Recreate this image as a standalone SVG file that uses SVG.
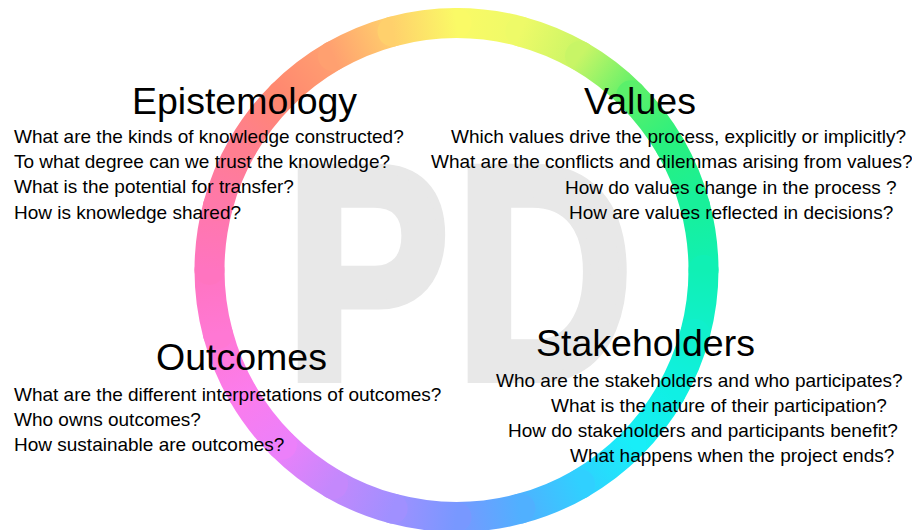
<svg xmlns="http://www.w3.org/2000/svg" width="912" height="530" viewBox="0 0 912 530">
  <style>
    .bg { fill: #ffffff; }
    .mark { font-family: "Liberation Sans", Arial, sans-serif; font-weight: bold; font-size: 304px; letter-spacing: 7px; fill: #e8e8e8; stroke: #e8e8e8; stroke-width: 10; stroke-linejoin: miter; }
    .seg { fill: none; stroke-width: 30; stroke-linecap: round; }
    .title { font-family: "Liberation Sans", Arial, sans-serif; font-size: 37.5px; fill: #000000; }
    .q { font-family: "Liberation Sans", Arial, sans-serif; font-size: 19px; fill: #000000; }
  </style>
  <defs>
    <!-- one linear gradient per 15-degree arc, chord to chord, to build the hue wheel -->
    <linearGradient id="g0" gradientUnits="userSpaceOnUse" x1="456.5" y1="23" x2="520.43" y2="31.42"><stop offset="0" stop-color="#fafa66"/><stop offset="1" stop-color="#eefa68"/></linearGradient>
    <linearGradient id="g1" gradientUnits="userSpaceOnUse" x1="520.43" y1="31.42" x2="580" y2="56.09"><stop offset="0" stop-color="#eefa68"/><stop offset="1" stop-color="#c8f566"/></linearGradient>
    <linearGradient id="g2" gradientUnits="userSpaceOnUse" x1="580" y1="56.09" x2="631.15" y2="95.35"><stop offset="0" stop-color="#c8f566"/><stop offset="1" stop-color="#5af06a"/></linearGradient>
    <linearGradient id="g3" gradientUnits="userSpaceOnUse" x1="631.15" y1="95.35" x2="670.41" y2="146.5"><stop offset="0" stop-color="#5af06a"/><stop offset="1" stop-color="#28f080"/></linearGradient>
    <linearGradient id="g4" gradientUnits="userSpaceOnUse" x1="670.41" y1="146.5" x2="695.08" y2="206.07"><stop offset="0" stop-color="#28f080"/><stop offset="1" stop-color="#18f09a"/></linearGradient>
    <linearGradient id="g5" gradientUnits="userSpaceOnUse" x1="695.08" y1="206.07" x2="703.5" y2="270"><stop offset="0" stop-color="#18f09a"/><stop offset="1" stop-color="#10f0b4"/></linearGradient>
    <linearGradient id="g6" gradientUnits="userSpaceOnUse" x1="703.5" y1="270" x2="695.08" y2="333.93"><stop offset="0" stop-color="#10f0b4"/><stop offset="1" stop-color="#10f0cc"/></linearGradient>
    <linearGradient id="g7" gradientUnits="userSpaceOnUse" x1="695.08" y1="333.93" x2="670.41" y2="393.5"><stop offset="0" stop-color="#10f0cc"/><stop offset="1" stop-color="#10f0e4"/></linearGradient>
    <linearGradient id="g8" gradientUnits="userSpaceOnUse" x1="670.41" y1="393.5" x2="631.15" y2="444.65"><stop offset="0" stop-color="#10f0e4"/><stop offset="1" stop-color="#18eef8"/></linearGradient>
    <linearGradient id="g9" gradientUnits="userSpaceOnUse" x1="631.15" y1="444.65" x2="580" y2="483.91"><stop offset="0" stop-color="#18eef8"/><stop offset="1" stop-color="#30d0ff"/></linearGradient>
    <linearGradient id="g10" gradientUnits="userSpaceOnUse" x1="580" y1="483.91" x2="520.43" y2="508.58"><stop offset="0" stop-color="#30d0ff"/><stop offset="1" stop-color="#50b0ff"/></linearGradient>
    <linearGradient id="g11" gradientUnits="userSpaceOnUse" x1="520.43" y1="508.58" x2="456.5" y2="517"><stop offset="0" stop-color="#50b0ff"/><stop offset="1" stop-color="#7898ff"/></linearGradient>
    <linearGradient id="g12" gradientUnits="userSpaceOnUse" x1="456.5" y1="517" x2="392.57" y2="508.58"><stop offset="0" stop-color="#7898ff"/><stop offset="1" stop-color="#a090ff"/></linearGradient>
    <linearGradient id="g13" gradientUnits="userSpaceOnUse" x1="392.57" y1="508.58" x2="333" y2="483.91"><stop offset="0" stop-color="#a090ff"/><stop offset="1" stop-color="#c488fc"/></linearGradient>
    <linearGradient id="g14" gradientUnits="userSpaceOnUse" x1="333" y1="483.91" x2="281.85" y2="444.65"><stop offset="0" stop-color="#c488fc"/><stop offset="1" stop-color="#ec80fa"/></linearGradient>
    <linearGradient id="g15" gradientUnits="userSpaceOnUse" x1="281.85" y1="444.65" x2="242.59" y2="393.5"><stop offset="0" stop-color="#ec80fa"/><stop offset="1" stop-color="#fb7cec"/></linearGradient>
    <linearGradient id="g16" gradientUnits="userSpaceOnUse" x1="242.59" y1="393.5" x2="217.92" y2="333.93"><stop offset="0" stop-color="#fb7cec"/><stop offset="1" stop-color="#ff78d4"/></linearGradient>
    <linearGradient id="g17" gradientUnits="userSpaceOnUse" x1="217.92" y1="333.93" x2="209.5" y2="270"><stop offset="0" stop-color="#ff78d4"/><stop offset="1" stop-color="#ff74c0"/></linearGradient>
    <linearGradient id="g18" gradientUnits="userSpaceOnUse" x1="209.5" y1="270" x2="217.92" y2="206.07"><stop offset="0" stop-color="#ff74c0"/><stop offset="1" stop-color="#ff78aa"/></linearGradient>
    <linearGradient id="g19" gradientUnits="userSpaceOnUse" x1="217.92" y1="206.07" x2="242.59" y2="146.5"><stop offset="0" stop-color="#ff78aa"/><stop offset="1" stop-color="#ff7e90"/></linearGradient>
    <linearGradient id="g20" gradientUnits="userSpaceOnUse" x1="242.59" y1="146.5" x2="281.85" y2="95.35"><stop offset="0" stop-color="#ff7e90"/><stop offset="1" stop-color="#ff8870"/></linearGradient>
    <linearGradient id="g21" gradientUnits="userSpaceOnUse" x1="281.85" y1="95.35" x2="333" y2="56.09"><stop offset="0" stop-color="#ff8870"/><stop offset="1" stop-color="#ffa070"/></linearGradient>
    <linearGradient id="g22" gradientUnits="userSpaceOnUse" x1="333" y1="56.09" x2="392.57" y2="31.42"><stop offset="0" stop-color="#ffa070"/><stop offset="1" stop-color="#ffd06c"/></linearGradient>
    <linearGradient id="g23" gradientUnits="userSpaceOnUse" x1="392.57" y1="31.42" x2="456.5" y2="23"><stop offset="0" stop-color="#ffd06c"/><stop offset="1" stop-color="#fafa66"/></linearGradient>
  </defs>

  <rect class="bg" x="0" y="0" width="912" height="530"/>

  <!-- large pale monogram behind everything, condensed and thickened -->
  <g id="watermark" transform="translate(285.3 378) scale(0.81 1)">
    <text class="mark" x="0" y="0">PD</text>
  </g>

  <!-- colour wheel: centre (456.5, 270), radius 247 -->
  <g id="ring">
    <path class="seg" stroke="url(#g0)" d="M456.5 23 A247 247 0 0 1 520.43 31.42"/>
    <path class="seg" stroke="url(#g1)" d="M520.43 31.42 A247 247 0 0 1 580 56.09"/>
    <path class="seg" stroke="url(#g2)" d="M580 56.09 A247 247 0 0 1 631.15 95.35"/>
    <path class="seg" stroke="url(#g3)" d="M631.15 95.35 A247 247 0 0 1 670.41 146.5"/>
    <path class="seg" stroke="url(#g4)" d="M670.41 146.5 A247 247 0 0 1 695.08 206.07"/>
    <path class="seg" stroke="url(#g5)" d="M695.08 206.07 A247 247 0 0 1 703.5 270"/>
    <path class="seg" stroke="url(#g6)" d="M703.5 270 A247 247 0 0 1 695.08 333.93"/>
    <path class="seg" stroke="url(#g7)" d="M695.08 333.93 A247 247 0 0 1 670.41 393.5"/>
    <path class="seg" stroke="url(#g8)" d="M670.41 393.5 A247 247 0 0 1 631.15 444.65"/>
    <path class="seg" stroke="url(#g9)" d="M631.15 444.65 A247 247 0 0 1 580 483.91"/>
    <path class="seg" stroke="url(#g10)" d="M580 483.91 A247 247 0 0 1 520.43 508.58"/>
    <path class="seg" stroke="url(#g11)" d="M520.43 508.58 A247 247 0 0 1 456.5 517"/>
    <path class="seg" stroke="url(#g12)" d="M456.5 517 A247 247 0 0 1 392.57 508.58"/>
    <path class="seg" stroke="url(#g13)" d="M392.57 508.58 A247 247 0 0 1 333 483.91"/>
    <path class="seg" stroke="url(#g14)" d="M333 483.91 A247 247 0 0 1 281.85 444.65"/>
    <path class="seg" stroke="url(#g15)" d="M281.85 444.65 A247 247 0 0 1 242.59 393.5"/>
    <path class="seg" stroke="url(#g16)" d="M242.59 393.5 A247 247 0 0 1 217.92 333.93"/>
    <path class="seg" stroke="url(#g17)" d="M217.92 333.93 A247 247 0 0 1 209.5 270"/>
    <path class="seg" stroke="url(#g18)" d="M209.5 270 A247 247 0 0 1 217.92 206.07"/>
    <path class="seg" stroke="url(#g19)" d="M217.92 206.07 A247 247 0 0 1 242.59 146.5"/>
    <path class="seg" stroke="url(#g20)" d="M242.59 146.5 A247 247 0 0 1 281.85 95.35"/>
    <path class="seg" stroke="url(#g21)" d="M281.85 95.35 A247 247 0 0 1 333 56.09"/>
    <path class="seg" stroke="url(#g22)" d="M333 56.09 A247 247 0 0 1 392.57 31.42"/>
    <path class="seg" stroke="url(#g23)" d="M392.57 31.42 A247 247 0 0 1 456.5 23"/>
  </g>

  <g id="epistemology">
    <text class="title" x="132" y="114">Epistemology</text>
    <text class="q" x="14" y="143">What are the kinds of knowledge constructed?</text>
    <text class="q" x="14" y="168">To what degree can we trust the knowledge?</text>
    <text class="q" x="14" y="193">What is the potential for transfer?</text>
    <text class="q" x="14" y="219">How is knowledge shared?</text>
  </g>

  <g id="values">
    <text class="title" x="584" y="114">Values</text>
    <text class="q" x="451" y="143">Which values drive the process, explicitly or implicitly?</text>
    <text class="q" x="431" y="168">What are the conflicts and dilemmas arising from values?</text>
    <text class="q" x="565" y="194">How do values change in the process ?</text>
    <text class="q" x="569" y="219">How are values reflected in decisions?</text>
  </g>

  <g id="outcomes">
    <text class="title" x="156" y="370">Outcomes</text>
    <text class="q" x="14" y="401">What are the different interpretations of outcomes?</text>
    <text class="q" x="14" y="426">Who owns outcomes?</text>
    <text class="q" x="14" y="451">How sustainable are outcomes?</text>
  </g>

  <g id="stakeholders">
    <text class="title" x="536" y="356">Stakeholders</text>
    <text class="q" x="496" y="387">Who are the stakeholders and who participates?</text>
    <text class="q" x="551" y="412">What is the nature of their participation?</text>
    <text class="q" x="508" y="437">How do stakeholders and participants benefit?</text>
    <text class="q" x="570" y="462">What happens when the project ends?</text>
  </g>
</svg>
